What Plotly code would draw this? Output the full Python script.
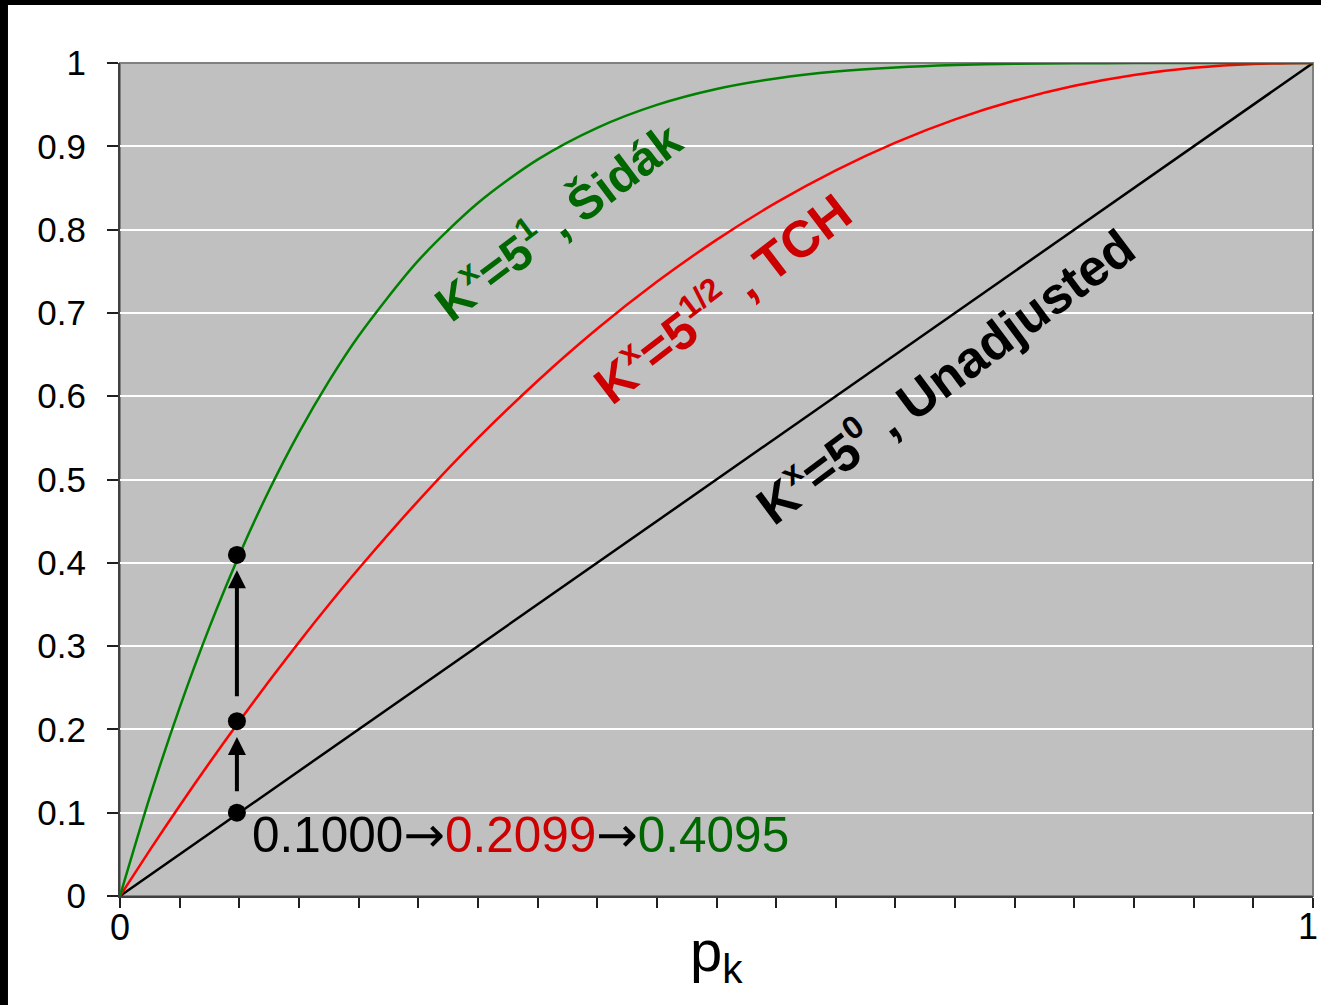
import plotly.graph_objects as go

# ---- data ----
p_vals = [0, 0.025, 0.05, 0.075, 0.1, 0.125, 0.15, 0.175, 0.2, 0.25, 0.3, 0.35, 0.4,
          0.45, 0.5, 0.55, 0.6, 0.65, 0.7, 0.75, 0.8, 0.85, 0.9, 0.95, 1.0]
unadjusted = [0, 0.025, 0.05, 0.075, 0.1, 0.125, 0.15, 0.175, 0.2, 0.25, 0.3, 0.35, 0.4,
              0.45, 0.5, 0.55, 0.6, 0.65, 0.7, 0.75, 0.8, 0.85, 0.9, 0.95, 1.0]
tch = [0, 0.0550, 0.1084, 0.1600, 0.2099, 0.2581, 0.3047, 0.3496, 0.3928, 0.4744, 0.5496,
       0.6183, 0.6809, 0.7373, 0.7877, 0.8323, 0.8711, 0.9044, 0.9323, 0.9549, 0.9726,
       0.9856, 0.9942, 0.9988, 1.0]
sidak = [0, 0.1189, 0.2262, 0.3228, 0.4095, 0.4871, 0.5563, 0.6178, 0.6723, 0.7627, 0.8319,
         0.8840, 0.9222, 0.9497, 0.9688, 0.9815, 0.9898, 0.9947, 0.9976, 0.9990, 0.9997,
         0.9999, 1.0, 1.0, 1.0]

example_p = 0.098
example_vals = [0.1000, 0.2099, 0.4095]

y_ticks = [0, 0.1, 0.2, 0.3, 0.4, 0.5, 0.6, 0.7, 0.8, 0.9, 1.0]
y_ticktext = ["0", "0.1", "0.2", "0.3", "0.4", "0.5", "0.6", "0.7", "0.8", "0.9", "1"]
x_ticks = [0, 1]
x_ticktext = ["0", "1"]
x_minor_ticks = [i * 0.05 for i in range(1, 20)]

FONT = "Liberation Sans, Arial, sans-serif"
ARROW = "<span style='font-family:DejaVu Sans'>→</span>"


def sup(t):
    return "<sup><span style='font-size:32px'>" + t + "</span></sup>"


fig = go.Figure()
fig.add_trace(go.Scatter(x=p_vals, y=unadjusted, mode="lines",
                         line=dict(color="#000000", width=2.5), showlegend=False))
fig.add_trace(go.Scatter(x=p_vals, y=tch, mode="lines",
                         line=dict(color="#ff0000", width=2.5, shape="spline", smoothing=0.8),
                         showlegend=False))
fig.add_trace(go.Scatter(x=p_vals, y=sidak, mode="lines",
                         line=dict(color="#008000", width=2.5, shape="spline", smoothing=0.8),
                         showlegend=False))
fig.add_trace(go.Scatter(x=[example_p] * 3, y=example_vals, mode="markers",
                         marker=dict(color="black", size=18), showlegend=False))

annotations = [
    dict(x=example_p, y=0.191, ax=example_p, ay=0.124, xref="x", yref="y", axref="x", ayref="y",
         text="", showarrow=True, arrowhead=2, arrowsize=0.9, arrowwidth=4, arrowcolor="black"),
    dict(x=example_p, y=0.391, ax=example_p, ay=0.238, xref="x", yref="y", axref="x", ayref="y",
         text="", showarrow=True, arrowhead=2, arrowsize=0.9, arrowwidth=4, arrowcolor="black"),
    dict(x=0.3353, y=0.073, xref="x", yref="y", showarrow=False,
         text="<span style='color:#000000'>0.1000</span>" + ARROW +
              "<span style='color:#cc0000'>0.2099</span>" + ARROW +
              "<span style='color:#006600'>0.4095</span>",
         font=dict(family=FONT, size=49.5, color="black")),
    dict(x=0.366, y=0.812, xref="x", yref="y", showarrow=False, textangle=-37,
         text="<b>K" + sup("x") + "=5" + sup("1") + " , Šidák</b>",
         font=dict(family=FONT, size=48, color="#006600")),
    dict(x=0.5046, y=0.719, xref="x", yref="y", showarrow=False, textangle=-37.5,
         text="<b>K" + sup("x") + "=5" + sup("1/2") + " , TCH</b>",
         font=dict(family=FONT, size=51.5, color="#cc0000")),
    dict(x=0.6915, y=0.6255, xref="x", yref="y", showarrow=False, textangle=-36.6,
         text="<b>K" + sup("x") + "=5" + sup("0") + " , Unadjusted</b>",
         font=dict(family=FONT, size=51.5, color="#000000")),
    dict(x=0.4996, y=-0.0708, xref="paper", yref="paper", showarrow=False,
         text="p<sub>k</sub>", font=dict(family=FONT, size=58, color="black"),
         yanchor="middle"),
    # right-hand x tick label, placed so it stays inside the page
    dict(x=x_ticks[1], y=-0.0372, xref="x", yref="paper", showarrow=False,
         text=x_ticktext[1], xanchor="right", yanchor="middle", xshift=7,
         font=dict(family=FONT, size=36, color="black")),
]

shapes = [
    dict(type="rect", xref="paper", yref="paper", x0=0, x1=1, y0=0, y1=1,
         line=dict(color="#808080", width=2), layer="below"),
    dict(type="rect", xref="paper", yref="paper", x0=-0.2, x1=1.2, y0=1.0696, y1=1.3,
         fillcolor="black", line=dict(width=0)),
    dict(type="rect", xref="paper", yref="paper", x0=-0.2, x1=-0.0939, y0=-0.3, y1=1.3,
         fillcolor="black", line=dict(width=0)),
]

fig.update_layout(
    width=1321, height=1005,
    margin=dict(l=120, r=8, t=63, b=109, autoexpand=False),
    paper_bgcolor="white", plot_bgcolor="#c0c0c0",
    annotations=annotations, shapes=shapes,
    font=dict(family=FONT, color="black"),
)
fig.update_xaxes(range=[0, 1], tickmode="array", tickvals=x_ticks,
                 ticktext=[x_ticktext[0], ""],
                 ticks="outside", ticklen=10, tickwidth=1.5, tickcolor="#202020",
                 minor=dict(tickmode="array", tickvals=x_minor_ticks, ticks="outside",
                            ticklen=10, tickwidth=1.5, tickcolor="#202020", showgrid=False),
                 ticklabeloverflow="allow", ticklabelstandoff=-11, automargin=False,
                 showgrid=False, zeroline=False, showline=True, linecolor="#404040", linewidth=2,
                 tickfont=dict(family=FONT, size=36, color="black"))
fig.update_yaxes(range=[0, 1], tickmode="array", tickvals=y_ticks, ticktext=y_ticktext,
                 ticks="outside", ticklen=11, tickwidth=1.5, tickcolor="#202020",
                 showgrid=True, gridcolor="white", gridwidth=1.5, zeroline=False,
                 showline=True, linecolor="#404040", linewidth=2, ticklabelstandoff=14,
                 automargin=False,
                 tickfont=dict(family=FONT, size=35, color="black"))

fig.write_html("out.html")
